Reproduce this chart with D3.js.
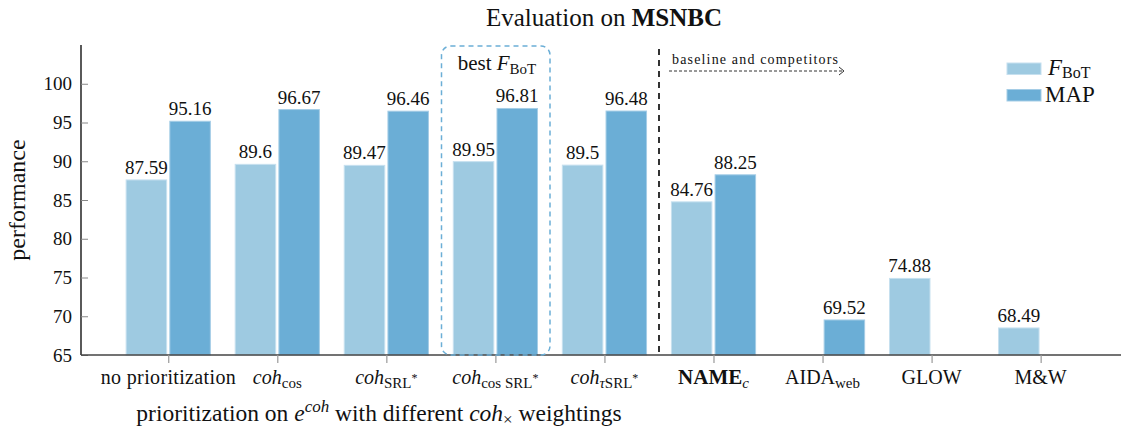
<!DOCTYPE html>
<html><head><meta charset="utf-8">
<script src="https://cdn.jsdelivr.net/npm/d3@7"></script>
<style>
body{margin:0;background:#fff;}
</style></head>
<body><svg id="c" width="1121" height="430" font-family="Liberation Serif" style="font-family:'Liberation Serif'"></svg>
<script>
const categories = ["noprio","cos","srl","cossrl","tausrl","name","aida","glow","mw"];
const fbot = [87.59, 89.6, 89.47, 89.95, 89.5, 84.76, null, 74.88, 68.49];
const map  = [95.16, 96.67, 96.46, 96.81, 96.48, 88.25, 69.52, null, null];
const yTicks = [65,70,75,80,85,90,95,100];
const fbotLabels = ["87.59","89.6","89.47","89.95","89.5","84.76","","74.88","68.49"];
const mapLabels  = ["95.16","96.67","96.46","96.81","96.48","88.25","69.52","",""];

const svg = d3.select("#c");
const pLeft = 81, pRight = 1121, pTop = 45, pBottom = 355;
const step = 109.05;
const x = d3.scalePoint().domain(categories).range([pLeft + 0.8*step, pLeft + 0.8*step + 8*step]);
const y = d3.scaleLinear().domain([65,105]).range([pBottom, pTop]);
const slot = 43.7, inset = 1.6;
const cF = "#9ecae1", cM = "#6baed6";

// title
const t = svg.append("text").attr("x", 604).attr("y", 26).attr("text-anchor","middle").attr("font-size",25);
t.append("tspan").text("Evaluation on ");
t.append("tspan").attr("font-weight","bold").text("MSNBC");

// bars
const g = svg.append("g");
categories.forEach((c,i)=>{
  const cx = x(c);
  if (fbot[i] != null) {
    g.append("rect").attr("x", cx - slot + inset).attr("width", slot - 2*inset)
      .attr("y", y(fbot[i])).attr("height", y(65) - y(fbot[i]))
      .attr("fill", cF).attr("stroke","#c6e0ef").attr("stroke-width",1);
    g.append("text").attr("x", cx - slot/2).attr("y", y(fbot[i]) - 6).attr("text-anchor","middle")
      .attr("font-size",19).text(fbotLabels[i]);
  }
  if (map[i] != null) {
    g.append("rect").attr("x", cx + inset).attr("width", slot - 2*inset)
      .attr("y", y(map[i])).attr("height", y(65) - y(map[i]))
      .attr("fill", cM).attr("stroke","#a5cde6").attr("stroke-width",1);
    g.append("text").attr("x", cx + slot/2).attr("y", y(map[i]) - 6).attr("text-anchor","middle")
      .attr("font-size",19).text(mapLabels[i]);
  }
});

// y axis
const ya = svg.append("g").attr("transform",`translate(${pLeft},0)`)
  .call(d3.axisLeft(y).tickValues(yTicks).tickSize(-7).tickPadding(9).tickFormat(d3.format("d")));
ya.attr("font-family", null).attr("font-size", null);
ya.select(".domain").attr("stroke","#000").attr("stroke-width",1.3).attr("d",`M0,${pTop}V${pBottom}`);
ya.selectAll(".tick line").attr("stroke","#888");
ya.selectAll(".tick text").attr("font-size",19);

// x axis
const xa = svg.append("g").attr("transform",`translate(0,${pBottom})`)
  .call(d3.axisBottom(x).tickSize(8).tickFormat(""));
xa.attr("font-family", null);
xa.select(".domain").attr("stroke","#444").attr("stroke-width",1.4).attr("d",`M${pLeft},0H${pRight}`);
xa.selectAll(".tick line").attr("stroke","#999").attr("stroke-width",1.2);

// x tick labels (rich)
const lab = svg.append("g").attr("font-size",20);
function mk(c){ return lab.append("text").attr("x", x(c)).attr("y", 384).attr("text-anchor","middle"); }
mk("noprio").attr("textLength",135).attr("lengthAdjust","spacing").text("no prioritization");
function coh(c, parts){
  const tt = mk(c);
  tt.append("tspan").attr("font-style","italic").text("coh");
  parts(tt);
}
coh("cos", tt=>{ tt.append("tspan").attr("dy",4).attr("font-size",15).text("cos"); });
coh("srl", tt=>{ tt.append("tspan").attr("dy",4).attr("font-size",15).text("SRL");
  tt.append("tspan").attr("dy",-6).attr("font-size",12).text("*"); });
coh("cossrl", tt=>{ tt.append("tspan").attr("dy",4).attr("font-size",15).text("cos SRL");
  tt.append("tspan").attr("dy",-6).attr("font-size",12).text("*"); });
coh("tausrl", tt=>{ tt.append("tspan").attr("dy",4).attr("font-size",15).attr("font-style","italic").text("τ");
  tt.append("tspan").attr("font-size",15).text("SRL");
  tt.append("tspan").attr("dy",-6).attr("font-size",12).text("*"); });
{ const tt = mk("name"); tt.append("tspan").attr("font-weight","bold").attr("font-size",21).text("NAME");
  tt.append("tspan").attr("dy",4).attr("font-size",15).attr("font-style","italic").text("c"); }
{ const tt = mk("aida"); tt.append("tspan").text("AIDA");
  tt.append("tspan").attr("dy",4).attr("font-size",15).text("web"); }
mk("glow").text("GLOW");
mk("mw").text("M&W");

// x axis title
const xt = svg.append("text").attr("x", 379).attr("y", 421).attr("text-anchor","middle").attr("font-size",23.5);
xt.append("tspan").text("prioritization on ");
xt.append("tspan").attr("font-style","italic").text("e");
xt.append("tspan").attr("dy",-9).attr("font-size",17).attr("font-style","italic").text("coh");
xt.append("tspan").attr("dy",9).text(" with different ");
xt.append("tspan").attr("font-style","italic").text("coh");
xt.append("tspan").attr("dy",4).attr("font-size",17).text("×");
xt.append("tspan").attr("dy",-4).text(" weightings");

// y axis title
svg.append("text").attr("transform","translate(25,200) rotate(-90)").attr("text-anchor","middle")
  .attr("font-size",24).text("performance");

// dashed separator
svg.append("line").attr("x1",659).attr("x2",659).attr("y1",49).attr("y2",pBottom)
  .attr("stroke","#000").attr("stroke-width",1.6).attr("stroke-dasharray","6,5");

// baseline arrow
svg.append("text").attr("x",672).attr("y",64).attr("font-size",14)
  .attr("textLength",166).attr("lengthAdjust","spacing").text("baseline and competitors");
svg.append("line").attr("x1",669).attr("x2",843).attr("y1",71).attr("y2",71)
  .attr("stroke","#333").attr("stroke-width",1).attr("stroke-dasharray","3,2");
svg.append("path").attr("d","M839,67 L844,71 L839,75").attr("fill","none").attr("stroke","#333").attr("stroke-width",1);

// best box
svg.append("rect").attr("x",441.5).attr("y",46).attr("width",108.5).attr("height",pBottom-46)
  .attr("rx",9).attr("ry",9).attr("fill","none").attr("stroke","#6baed6").attr("stroke-width",1.5)
  .attr("stroke-dasharray","5,4");
const bt = svg.append("text").attr("x",497).attr("y",70).attr("text-anchor","middle").attr("font-size",21);
bt.append("tspan").text("best ");
bt.append("tspan").attr("font-style","italic").text("F");
bt.append("tspan").attr("dy",4).attr("font-size",15).text("BoT");

// legend
svg.append("rect").attr("x",1007).attr("y",63).attr("width",34).attr("height",11.5).attr("fill",cF).attr("stroke","#c6e0ef");
svg.append("rect").attr("x",1007).attr("y",89.5).attr("width",34).attr("height",11.5).attr("fill",cM).attr("stroke","#a5cde6");
const l1 = svg.append("text").attr("x",1048).attr("y",75).attr("font-size",23);
l1.append("tspan").attr("font-style","italic").text("F");
l1.append("tspan").attr("dy",3).attr("font-size",16).text("BoT");
svg.append("text").attr("x",1045).attr("y",102).attr("font-size",23).text("MAP");

svg.selectAll("text").attr("font-family","Liberation Serif").attr("fill","#111");
</script></body></html>
